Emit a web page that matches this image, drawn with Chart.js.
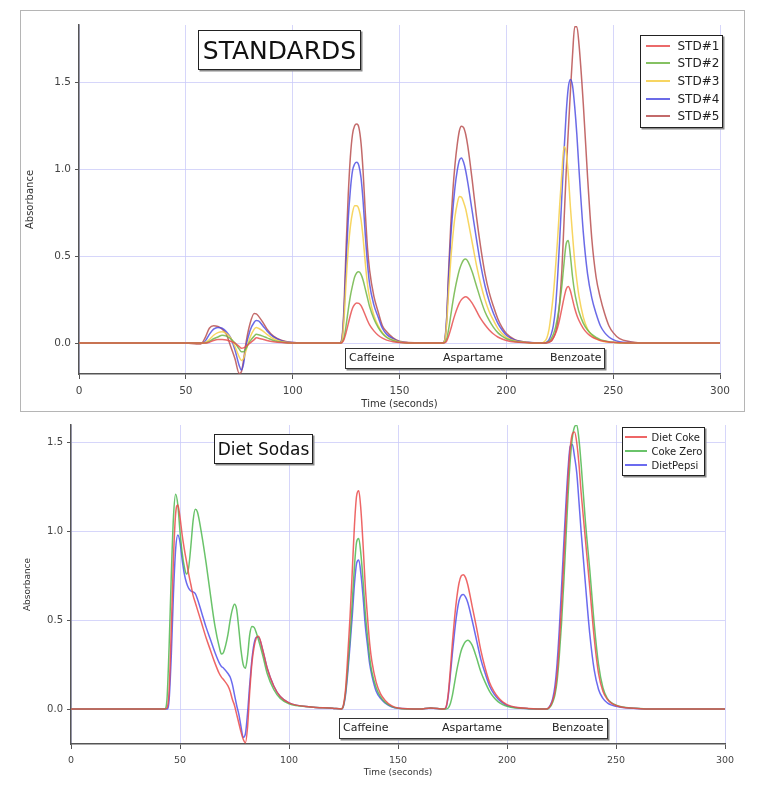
<!DOCTYPE html>
<html><head><meta charset="utf-8">
<script src="https://cdn.jsdelivr.net/npm/chart.js@4.4.1/dist/chart.umd.min.js"></script>
<style>
html,body{margin:0;padding:0;background:#fff;width:778px;height:797px;overflow:hidden;}
body{position:relative;font-family:'DejaVu Sans',sans-serif;}
.frame{position:absolute;left:20px;top:10px;width:725px;height:402px;border:1px solid #b5b5b5;box-sizing:border-box;}
canvas{position:absolute;}
.tbox{position:absolute;border:1.5px solid #222;background:#fff;box-shadow:1.5px 1.5px 0 #8a8a8a;color:#111;box-sizing:border-box;display:flex;align-items:center;justify-content:center;white-space:nowrap;}
.abox{position:absolute;border:1.5px solid #333;background:#fff;box-shadow:1.5px 1.5px 0 #8a8a8a;box-sizing:border-box;color:#222;}
.abox span{position:absolute;top:0;white-space:nowrap;}
.legend{position:absolute;border:1.5px solid #222;background:#fff;box-shadow:1.5px 1.5px 0 #8a8a8a;box-sizing:border-box;}
.legend .row{position:absolute;left:0;display:flex;align-items:center;white-space:nowrap;color:#222;}
.legend .sw{display:inline-block;height:2px;}
</style></head>
<body>
<div class="frame"></div>
<canvas id="cTop" width="725" height="402" style="left:20px;top:10px;width:725px;height:402px"></canvas>
<canvas id="cBot" width="727" height="365" style="left:18px;top:415px;width:727px;height:365px"></canvas>
<div id="overlay"></div>
<script>
// ================= STANDARDS (top) =================
const TIME_STD = [
  0, 50, 55, 57, 59, 61, 63, 65, 67, 69, 71, 73, 75, 76, 77, 78, 80, 82, 83, 84, 86, 88, 91, 95, 100, 110,
  122, 123, 124, 125, 126, 127, 128, 129, 130, 131, 132, 133, 134, 135, 136, 138, 140, 142, 144, 147, 150,
  160, 170, 171, 172, 173, 174, 175, 176, 177, 178, 179, 180, 181, 182, 184, 186, 188, 190, 192, 194, 196, 198, 200, 204, 210,
  216, 218, 219, 220, 221, 222, 223, 224, 225, 226, 227, 228, 229, 230, 231, 232, 233, 234, 236, 238, 240, 242, 244, 246, 248, 250, 253, 258, 265, 300
];
const STD_1 = [
  0, 0, 0, 0, 0, 0.005, 0.015, 0.02, 0.02, 0.018, 0.01, 0, -0.02, -0.03, -0.028, -0.02, 0, 0.02, 0.03, 0.028, 0.022, 0.015, 0.008, 0.003, 0, 0,
  0, 0.002, 0.02, 0.06, 0.11, 0.16, 0.2, 0.222, 0.23, 0.228, 0.215, 0.19, 0.16, 0.13, 0.105, 0.07, 0.045, 0.028, 0.017, 0.008, 0.003,
  0, 0, 0.001, 0.01, 0.04, 0.08, 0.125, 0.165, 0.2, 0.23, 0.25, 0.262, 0.266, 0.26, 0.23, 0.185, 0.14, 0.105, 0.075, 0.052, 0.035, 0.023, 0.015, 0.006, 0.002,
  0, 0, 0.002, 0.006, 0.015, 0.03, 0.055, 0.09, 0.14, 0.2, 0.26, 0.31, 0.325, 0.3, 0.25, 0.2, 0.16, 0.13, 0.085, 0.055, 0.036, 0.024, 0.015, 0.01, 0.006, 0.004, 0.002, 0, 0, 0
];
const STD_2 = [
  0, 0, 0, 0, 0, 0.01, 0.025, 0.035, 0.045, 0.04, 0.025, 0, -0.035, -0.05, -0.05, -0.035, 0.01, 0.04, 0.05, 0.048, 0.04, 0.03, 0.015, 0.005, 0, 0,
  0, 0.003, 0.03, 0.1, 0.19, 0.27, 0.33, 0.38, 0.405, 0.41, 0.395, 0.36, 0.31, 0.26, 0.21, 0.14, 0.09, 0.055, 0.032, 0.015, 0.005,
  0, 0, 0.002, 0.02, 0.08, 0.16, 0.24, 0.31, 0.37, 0.42, 0.455, 0.478, 0.483, 0.47, 0.41, 0.33, 0.25, 0.18, 0.13, 0.09, 0.06, 0.04, 0.025, 0.009, 0.002,
  0, 0, 0.003, 0.01, 0.025, 0.05, 0.09, 0.15, 0.23, 0.33, 0.46, 0.57, 0.59, 0.5, 0.38, 0.29, 0.23, 0.18, 0.115, 0.075, 0.05, 0.032, 0.02, 0.013, 0.008, 0.005, 0.002, 0, 0, 0
];
const STD_3 = [
  0, 0, 0, 0, 0.003, 0.02, 0.045, 0.06, 0.065, 0.055, 0.03, -0.02, -0.08, -0.1, -0.09, -0.05, 0.03, 0.08, 0.09, 0.085, 0.07, 0.05, 0.025, 0.008, 0.002, 0,
  0, 0.01, 0.13, 0.35, 0.54, 0.67, 0.75, 0.79, 0.79, 0.77, 0.71, 0.6, 0.46, 0.34, 0.26, 0.16, 0.1, 0.06, 0.035, 0.018, 0.006,
  0, 0, 0.008, 0.1, 0.3, 0.48, 0.62, 0.73, 0.8, 0.843, 0.84, 0.81, 0.77, 0.71, 0.58, 0.45, 0.34, 0.25, 0.18, 0.13, 0.085, 0.055, 0.033, 0.012, 0.003,
  0, 0.01, 0.03, 0.08, 0.17, 0.28, 0.43, 0.6, 0.8, 0.98, 1.13, 1.1, 0.97, 0.78, 0.62, 0.47, 0.36, 0.27, 0.15, 0.08, 0.045, 0.025, 0.015, 0.008, 0.005, 0.003, 0, 0, 0, 0
];
const STD_4 = [
  0, 0, 0, 0, 0.01, 0.05, 0.08, 0.09, 0.085, 0.065, 0.03, -0.04, -0.13, -0.155, -0.12, -0.03, 0.07, 0.12, 0.13, 0.128, 0.1, 0.07, 0.035, 0.012, 0.003, 0,
  0, 0.015, 0.17, 0.46, 0.71, 0.88, 0.99, 1.03, 1.04, 1.02, 0.95, 0.81, 0.62, 0.46, 0.34, 0.22, 0.15, 0.085, 0.05, 0.025, 0.008,
  0, 0, 0.01, 0.13, 0.38, 0.61, 0.77, 0.9, 0.99, 1.05, 1.065, 1.04, 0.99, 0.92, 0.76, 0.6, 0.45, 0.33, 0.24, 0.17, 0.115, 0.075, 0.045, 0.016, 0.004,
  0, 0, 0.005, 0.02, 0.05, 0.1, 0.2, 0.38, 0.6, 0.85, 1.1, 1.32, 1.47, 1.517, 1.48, 1.36, 1.2, 1.0, 0.64, 0.4, 0.26, 0.17, 0.1, 0.06, 0.035, 0.02, 0.008, 0.003, 0, 0
];
const STD_5 = [
  0, 0, -0.005, -0.005, 0.03, 0.085, 0.1, 0.095, 0.08, 0.05, -0.02, -0.09, -0.175, -0.165, -0.1, -0.01, 0.11, 0.17, 0.168, 0.155, 0.12, 0.08, 0.04, 0.015, 0.003, 0,
  0, 0.025, 0.2, 0.55, 0.85, 1.07, 1.2, 1.25, 1.26, 1.24, 1.15, 0.98, 0.75, 0.55, 0.42, 0.27, 0.18, 0.1, 0.065, 0.03, 0.01,
  0, 0, 0.01, 0.12, 0.42, 0.68, 0.88, 1.03, 1.14, 1.22, 1.247, 1.24, 1.2, 1.13, 0.94, 0.73, 0.55, 0.4, 0.29, 0.21, 0.14, 0.09, 0.055, 0.02, 0.005,
  0, 0, 0.003, 0.005, 0.01, 0.03, 0.06, 0.12, 0.24, 0.42, 0.7, 0.98, 1.22, 1.45, 1.66, 1.82, 1.82, 1.72, 1.38, 0.96, 0.6, 0.38, 0.26, 0.17, 0.1, 0.06, 0.025, 0.008, 0, 0
];
const STD_NAMES = ['STD#1', 'STD#2', 'STD#3', 'STD#4', 'STD#5'];
const STD_COLORS = ['rgba(232,80,80,0.85)', 'rgba(112,182,70,0.85)', 'rgba(246,208,80,0.9)', 'rgba(70,70,225,0.8)', 'rgba(185,80,80,0.85)'];

// ================= Diet Sodas (bottom) =================
const TIME_SODA = [
  0, 40, 43, 44, 45, 46, 47, 48, 49, 50, 51, 52, 53, 54, 55, 56, 57, 58, 60, 62, 64, 66, 68, 69, 70,
  72, 73, 74, 75, 76, 77, 78, 79, 80, 81, 82, 83, 84, 85, 86, 88, 90, 93, 96, 100, 110, 120,
  124, 125, 126, 127, 128, 129, 130, 131, 132, 133, 134, 135, 136, 137, 138, 140, 142, 144, 147, 150,
  160, 165, 171, 172, 173, 174, 175, 176, 177, 178, 179, 180, 181, 182, 184, 186, 188, 190, 192, 194, 196, 198, 200, 204, 210,
  218, 219, 220, 221, 222, 223, 224, 225, 226, 227, 228, 229, 230, 231, 232, 233, 234, 236, 238, 240, 242, 244, 246, 248, 250, 253, 258, 265, 300
];
const DIET_COKE = [
  0, 0, 0, 0.005, 0.1, 0.45, 0.85, 1.1, 1.15, 1.08, 0.98, 0.9, 0.83, 0.76, 0.7, 0.64, 0.6, 0.56, 0.48, 0.4, 0.33, 0.26, 0.2, 0.18, 0.165,
  0.13, 0.1, 0.055, 0.02, -0.03, -0.08, -0.13, -0.17, -0.19, -0.1, 0.1, 0.26, 0.35, 0.4, 0.41, 0.33, 0.23, 0.13, 0.07, 0.035, 0.012, 0.005,
  0, 0.025, 0.12, 0.31, 0.52, 0.77, 1.03, 1.2, 1.23, 1.12, 0.92, 0.69, 0.52, 0.37, 0.27, 0.15, 0.085, 0.05, 0.019, 0.006,
  0, 0.006, 0, 0.01, 0.08, 0.22, 0.38, 0.52, 0.63, 0.71, 0.75, 0.757, 0.74, 0.7, 0.58, 0.46, 0.33, 0.23, 0.15, 0.1, 0.065, 0.04, 0.025, 0.01, 0.003,
  0, 0.005, 0.02, 0.05, 0.1, 0.2, 0.37, 0.58, 0.82, 1.07, 1.3, 1.47, 1.55, 1.56, 1.5, 1.38, 1.22, 0.95, 0.68, 0.4, 0.2, 0.1, 0.055, 0.032, 0.02, 0.01, 0.005, 0, 0
];
const COKE_ZERO = [
  0, 0, 0, 0.05, 0.35, 0.75, 1.08, 1.21, 1.15, 1.0, 0.88, 0.8, 0.76, 0.8, 0.92, 1.06, 1.125, 1.11, 0.98, 0.82, 0.64, 0.47, 0.35, 0.31, 0.32,
  0.42, 0.5, 0.56, 0.59, 0.56, 0.45, 0.33, 0.25, 0.23, 0.3, 0.42, 0.465, 0.46, 0.43, 0.39, 0.3, 0.2, 0.11, 0.06, 0.03, 0.012, 0.005,
  0, 0.02, 0.1, 0.24, 0.4, 0.6, 0.8, 0.94, 0.96, 0.87, 0.72, 0.54, 0.41, 0.29, 0.21, 0.12, 0.068, 0.039, 0.015, 0.005,
  0, 0.006, 0, 0, 0.005, 0.03, 0.08, 0.15, 0.22, 0.28, 0.33, 0.36, 0.38, 0.388, 0.36, 0.29, 0.21, 0.15, 0.1, 0.065, 0.04, 0.025, 0.015, 0.006, 0.002,
  0, 0.003, 0.015, 0.04, 0.08, 0.16, 0.3, 0.48, 0.7, 0.95, 1.2, 1.4, 1.53, 1.59, 1.6, 1.52, 1.38, 1.05, 0.78, 0.48, 0.25, 0.12, 0.06, 0.035, 0.022, 0.011, 0.005, 0, 0
];
const DIET_PEPSI = [
  0, 0, 0, 0, 0.05, 0.3, 0.65, 0.9, 0.98, 0.94, 0.84, 0.76, 0.71, 0.68, 0.665, 0.66, 0.65, 0.62, 0.54, 0.46, 0.39, 0.32, 0.26, 0.24, 0.23,
  0.2, 0.18, 0.14, 0.08, 0.02, -0.03, -0.1, -0.16, -0.14, -0.02, 0.14, 0.28, 0.37, 0.405, 0.405, 0.33, 0.23, 0.13, 0.07, 0.035, 0.012, 0.005,
  0, 0.017, 0.085, 0.21, 0.36, 0.52, 0.7, 0.82, 0.84, 0.76, 0.63, 0.47, 0.36, 0.255, 0.19, 0.1, 0.06, 0.034, 0.013, 0.004,
  0, 0.006, 0, 0.008, 0.07, 0.19, 0.32, 0.44, 0.54, 0.61, 0.64, 0.645, 0.63, 0.6, 0.5, 0.39, 0.28, 0.2, 0.13, 0.085, 0.055, 0.035, 0.02, 0.008, 0.002,
  0, 0.006, 0.025, 0.06, 0.13, 0.26, 0.45, 0.68, 0.92, 1.15, 1.35, 1.48, 1.49, 1.42, 1.33, 1.17, 1.0, 0.7, 0.42, 0.22, 0.11, 0.06, 0.035, 0.022, 0.015, 0.008, 0.004, 0, 0
];
const SODA_NAMES = ['Diet Coke', 'Coke Zero', 'DietPepsi'];
const SODA_COLORS = ['rgba(235,75,75,0.85)', 'rgba(80,185,80,0.85)', 'rgba(70,70,235,0.8)'];

// ================= shared axis / labels =================
const X_TICKS = [0, 50, 100, 150, 200, 250, 300];
const Y_TICKS = [0, 0.5, 1.0, 1.5];
const PEAK_LABELS = ['Caffeine', 'Aspartame', 'Benzoate'];
const GRID = 'rgba(200,200,248,0.75)';

function check(time, arrs, name){
  arrs.forEach((a,i)=>{ if(a.length!==time.length) throw new Error(name+' series '+i+' length '+a.length+' != '+time.length); });
}
check(TIME_STD, [STD_1,STD_2,STD_3,STD_4,STD_5], 'STD');
check(TIME_SODA, [DIET_COKE,COKE_ZERO,DIET_PEPSI], 'SODA');

function buildChart(id, time, series, names, colors, o){
  return new Chart(document.getElementById(id), {
    type: 'line',
    data: { datasets: series.map((s,i)=>({
      label: names[i],
      data: time.map((t,j)=>({x:t, y:s[j]})),
      borderColor: colors[i], backgroundColor: colors[i],
      borderWidth: o.lw, pointRadius: 0, fill: false,
      tension: 0.4, cubicInterpolationMode: 'monotone'
    }))},
    options: {
      responsive: false, animation: false, devicePixelRatio: 1,
      layout: { padding: { left: 0, right: o.padR, top: o.padT, bottom: 0 } },
      plugins: { legend: { display: false }, tooltip: { enabled: false } },
      scales: {
        x: {
          type: 'linear', min: 0, max: 300,
          afterBuildTicks: s => { s.ticks = X_TICKS.map(v=>({value:v})); },
          afterFit: s => { s.height = o.xH; },
          ticks: { color: '#444', font: { family: 'DejaVu Sans', size: o.xFont }, padding: o.xPad, maxRotation: 0, autoSkip: false },
          grid: { color: GRID, tickColor: '#555', tickLength: 5, lineWidth: 1 },
          border: { color: '#555', width: 1.5 },
          title: { display: true, text: 'Time (seconds)', color: '#333', font: { family: 'DejaVu Sans', size: o.xtFont }, padding: { top: 0, bottom: o.xtPad } }
        },
        y: {
          type: 'linear', min: o.ymin, max: o.ymax,
          afterBuildTicks: s => { s.ticks = Y_TICKS.map(v=>({value:v})); },
          afterFit: s => { s.width = o.yW; },
          ticks: { color: '#444', font: { family: 'DejaVu Sans', size: o.yFont }, padding: 4, callback: v => Number(v).toFixed(1) },
          grid: { color: GRID, tickColor: '#555', tickLength: 4, lineWidth: 1 },
          border: { color: '#555', width: 1.5 },
          title: { display: true, text: 'Absorbance', color: '#333', font: { family: 'DejaVu Sans', size: o.ytFont }, padding: { top: o.ytPad, bottom: 0 } }
        }
      }
    }
  });
}

buildChart('cTop', TIME_STD, [STD_1,STD_2,STD_3,STD_4,STD_5], STD_NAMES, STD_COLORS,
  { lw: 1.5, padR: 25, padT: 15, xH: 38, xFont: 10.5, xPad: 6, xtFont: 10, xtPad: 2,
    ymin: -0.178, ymax: 1.83, yW: 59, yFont: 10.5, ytFont: 10, ytPad: 4 });
buildChart('cBot', TIME_SODA, [DIET_COKE,COKE_ZERO,DIET_PEPSI], SODA_NAMES, SODA_COLORS,
  { lw: 1.5, padR: 20, padT: 10, xH: 36, xFont: 9.5, xPad: 6, xtFont: 9, xtPad: 2,
    ymin: -0.197, ymax: 1.6, yW: 53, yFont: 10, ytFont: 9, ytPad: 4 });

// ================= overlays (title boxes, legends, peak labels) =================
const ov = document.getElementById('overlay');
function el(cls, css, html){ const d=document.createElement('div'); d.className=cls; Object.assign(d.style, css); if(html!==undefined) d.innerHTML=html; ov.appendChild(d); return d; }

el('tbox', {left:'198px', top:'30px', width:'163px', height:'40px', fontSize:'25px'}, 'STANDARDS');
el('tbox', {left:'214px', top:'434px', width:'99px', height:'30px', fontSize:'17px'}, 'Diet Sodas');

function peakBox(left, top, width, xs){
  const b = el('abox', {left:left+'px', top:top+'px', width:width+'px', height:'21px', fontSize:'11px', lineHeight:'18px'});
  PEAK_LABELS.forEach((t,i)=>{ const s=document.createElement('span'); s.textContent=t; s.style.left=(xs[i]-left)+'px'; b.appendChild(s); });
}
peakBox(345, 348, 260, [348, 442, 549]);
peakBox(339, 718, 269, [342, 441, 551]);

function legend(left, top, width, height, names, colors, rowH, firstC, swX, swW, txtX, fs){
  const L = el('legend', {left:left+'px', top:top+'px', width:width+'px', height:height+'px'});
  names.forEach((n,i)=>{
    const r=document.createElement('div'); r.className='row';
    r.style.top=Math.round(firstC + i*rowH - top - rowH/2 - 1.5)+'px'; r.style.height=rowH+'px'; r.style.fontSize=fs+'px';
    const sw=document.createElement('span'); sw.className='sw'; sw.style.width=swW+'px'; sw.style.background=colors[i];
    sw.style.marginLeft=(swX-left-1.5)+'px'; sw.style.marginRight=(txtX-swX-swW)+'px';
    const tx=document.createElement('span'); tx.textContent=n;
    r.appendChild(sw); r.appendChild(tx); L.appendChild(r);
  });
}
legend(640, 35, 83, 93, STD_NAMES, STD_COLORS, 17.7, 46, 646, 24, 678, 12);
legend(622, 427, 83, 49, SODA_NAMES, SODA_COLORS, 14.2, 437.5, 625, 22, 652, 10);
</script>
</body></html>
